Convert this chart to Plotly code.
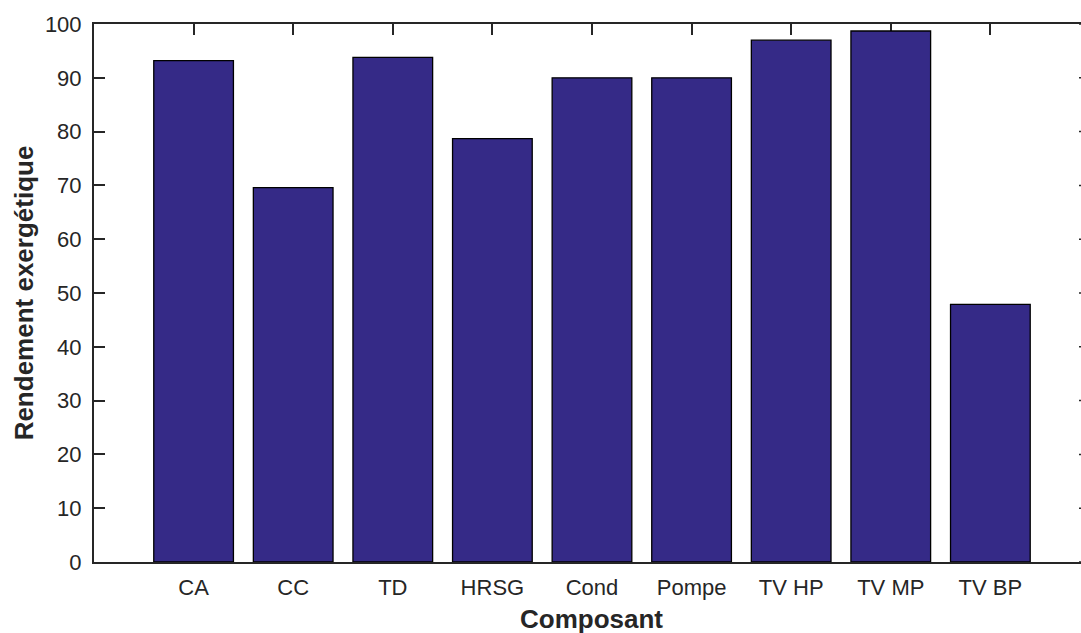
import plotly.graph_objects as go

# Exergy efficiency per component
composants = ["CA", "CC", "TD", "HRSG", "Cond", "Pompe", "TV HP", "TV MP", "TV BP"]
rendement = [93.2, 69.6, 93.8, 78.7, 90.0, 90.0, 97.0, 98.7, 47.9]
y_ticks = [0, 10, 20, 30, 40, 50, 60, 70, 80, 90, 100]

positions = list(range(1, len(composants) + 1))
x_full = [0, len(composants) + 1]        # full axis extent (box edges)
x_range = [0, 9.91]                      # visible part of the axis
y_range = [0, 100]
ink = "#262626"
font_family = "Liberation Sans, Arial, sans-serif"

fig = go.Figure()
fig.add_trace(go.Bar(
    x=positions,
    y=rendement,
    width=0.8,
    marker=dict(color="#352A87", line=dict(color="#000000", width=1.3)),
    hoverinfo="x+y",
    showlegend=False,
))

# visible stub of the right-hand y ticks at the edge of the page
tick_shapes = [
    dict(
        type="line", xref="paper", yref="y", xsizemode="pixel", xanchor=1,
        x0=-2, x1=0, y0=v, y1=v, line=dict(color=ink, width=1.5),
    )
    for v in y_ticks
]

fig.update_layout(
    width=1081,
    height=633,
    margin=dict(l=94, r=0, t=24, b=71),
    paper_bgcolor="white",
    plot_bgcolor="white",
    font=dict(family=font_family, size=22, color=ink),
    bargap=0.2,
    shapes=tick_shapes,
    xaxis=dict(
        range=x_range,
        tickmode="array",
        tickvals=positions,
        ticktext=composants,
        ticks="inside",
        ticklen=11,
        tickwidth=1.5,
        tickcolor=ink,
        showline=True,
        mirror="ticks",
        linecolor=ink,
        linewidth=2,
        showgrid=False,
        zeroline=False,
        layer="below traces",
        ticklabelstandoff=5,
        tickfont=dict(size=22, color=ink),
    ),
    yaxis=dict(
        range=y_range,
        tickmode="array",
        tickvals=y_ticks,
        ticks="inside",
        ticklen=11,
        tickwidth=1.5,
        tickcolor=ink,
        showline=True,
        linecolor=ink,
        linewidth=2,
        showgrid=False,
        zeroline=False,
        ticklabelstandoff=6,
        tickfont=dict(size=22, color=ink),
        title=dict(text="<b>Rendement exergétique</b>", font=dict(size=26, color=ink), standoff=4),
    ),
    annotations=[dict(
        text="<b>Composant</b>",
        xref="x", yref="paper",
        x=sum(x_full) / 2, y=0,
        yshift=-57, yanchor="middle", xanchor="center",
        showarrow=False,
        font=dict(size=26, color=ink),
    )],
)

fig.write_html("out.html")
